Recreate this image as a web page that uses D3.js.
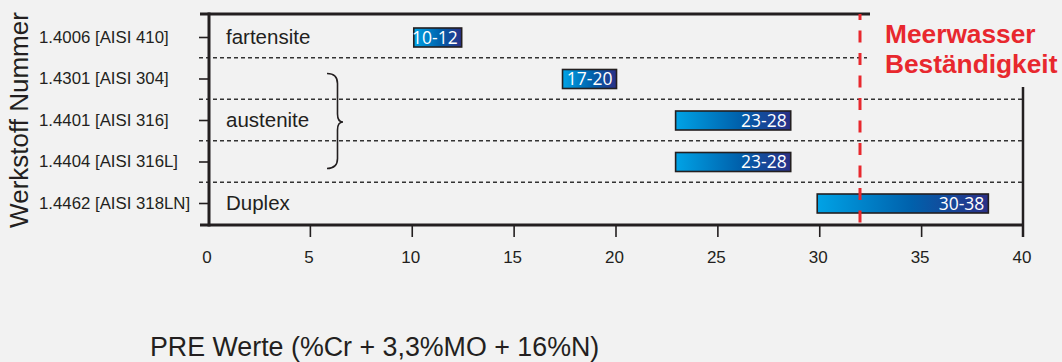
<!DOCTYPE html>
<html><head><meta charset="utf-8">
<script src="https://cdn.jsdelivr.net/npm/d3@7"></script>
<style>
html,body{margin:0;padding:0;background:#f2f2f2;}
svg{display:block;}
</style></head>
<body>
<svg id="chart" width="1062" height="362"></svg>
<script>
// ---- data ----
const materials = ["1.4006 [AISI 410]", "1.4301 [AISI 304]", "1.4401 [AISI 316]", "1.4404 [AISI 316L]", "1.4462 [AISI 318LN]"];
const barStart = [10.1, 17.4, 22.95, 22.95, 29.9];
const barEnd = [12.45, 20.05, 28.6, 28.6, 38.3];
const barLabels = ["10-12", "17-20", "23-28", "23-28", "30-38"];
const groups = ["fartensite", "austenite", "Duplex"];
const groupRow = [0, 2, 4];
const xTicks = [0, 5, 10, 15, 20, 25, 30, 35, 40];
const seawaterLimit = 32;
const seawaterText = ["Meerwasser", "Beständigkeit"];
const yTitle = "Werkstoff Nummer";
const xTitle = "PRE Werte (%Cr + 3,3%MO + 16%N)";

// ---- chart ----
const svg = d3.select("#chart");
const ink = "#231f20";
const sans = "'Liberation Sans', Arial, sans-serif";

const x = d3.scaleLinear().domain([0, 40]).range([208, 1023]);
const y = d3.scalePoint().domain(materials).range([37, 203]);
const plotTop = 14, plotBottom = 225;

const defs = svg.append("defs");
const grad = defs.append("linearGradient").attr("id", "barGrad").attr("x1", "0").attr("x2", "1").attr("y1", "0").attr("y2", "0");
grad.append("stop").attr("offset", "0%").attr("stop-color", "#00a3e6");
grad.append("stop").attr("offset", "55%").attr("stop-color", "#0061ac");
grad.append("stop").attr("offset", "100%").attr("stop-color", "#2b2f86");

// dotted separators
const seps = materials.slice(1).map((m, i) => ({ y: (y(materials[i]) + y(m)) / 2, first: i === 0 }));
svg.append("g").selectAll("line").data(seps).join("line")
  .attr("x1", 199).attr("x2", d => d.first ? 867 : x(40))
  .attr("y1", d => d.y).attr("y2", d => d.y)
  .attr("stroke", "#333").attr("stroke-width", 1.6).attr("stroke-dasharray", "4,3");

// frame
const frame = svg.append("g").attr("stroke", ink).attr("fill", "none");
frame.append("line").attr("x1", 200).attr("x2", 870).attr("y1", plotTop).attr("y2", plotTop).attr("stroke-width", 3);
frame.append("line").attr("x1", 200).attr("x2", x(40) + 1).attr("y1", plotBottom).attr("y2", plotBottom).attr("stroke-width", 3);
frame.append("line").attr("x1", x(0) + 1).attr("x2", x(0) + 1).attr("y1", plotTop - 1.5).attr("y2", plotBottom + 1.5).attr("stroke-width", 3);
frame.append("line").attr("x1", x(40)).attr("x2", x(40)).attr("y1", 87).attr("y2", 237).attr("stroke-width", 2.5);

// x axis ticks + labels
const xAxis = d3.axisBottom(x).tickValues(xTicks.filter(v => v > 0 && v < 40)).tickSize(11).tickSizeOuter(0).tickFormat("");
const gx = svg.append("g").attr("transform", `translate(0,${plotBottom + 1})`).call(xAxis);
gx.select(".domain").remove();
gx.selectAll("line").attr("stroke", ink).attr("stroke-width", 1.6);
svg.append("g").selectAll("text").data(xTicks).join("text")
  .attr("x", d => x(d) - 1).attr("y", 263)
  .attr("text-anchor", "middle").attr("font-family", sans).attr("font-size", 17).attr("fill", ink)
  .text(d => d);

// y axis ticks + labels
const yAxis = d3.axisLeft(y).tickSize(10).tickSizeOuter(0).tickFormat("");
const gy = svg.append("g").attr("transform", `translate(${x(0) + 1},0)`).call(yAxis);
gy.select(".domain").remove();
gy.selectAll("line").attr("stroke", ink).attr("stroke-width", 1.6);
svg.append("g").selectAll("text").data(materials).join("text")
  .attr("x", 39).attr("y", d => y(d)).attr("dy", "0.35em")
  .attr("font-family", sans).attr("font-size", 16.8).attr("fill", ink)
  .text(d => d);

// group labels
svg.append("g").selectAll("text").data(groups).join("text")
  .attr("x", 226).attr("y", (d, i) => y(materials[groupRow[i]])).attr("dy", "0.35em")
  .attr("font-family", sans).attr("font-size", 20.5).attr("fill", ink)
  .text(d => d);

// brace for austenite rows
const bTop = y(materials[1]) - 5, bBot = y(materials[3]) + 7, bMid = y(materials[2]) + 2;
const bx0 = 327, bx1 = 337.5, bxp = 343;
svg.append("path")
  .attr("d", `M${bx0},${bTop} Q${bx1},${bTop} ${bx1},${bTop + 10} L${bx1},${bMid - 8} Q${bx1},${bMid} ${bxp},${bMid} Q${bx1},${bMid} ${bx1},${bMid + 8} L${bx1},${bBot - 10} Q${bx1},${bBot} ${bx0},${bBot}`)
  .attr("fill", "none").attr("stroke", ink).attr("stroke-width", 1.6);

// bars
const barH = 19;
const bars = svg.append("g").selectAll("g").data(materials).join("g");
bars.append("rect")
  .attr("x", (d, i) => x(barStart[i])).attr("y", d => y(d) - barH / 2 + 0.5)
  .attr("width", (d, i) => x(barEnd[i]) - x(barStart[i])).attr("height", barH)
  .attr("fill", "url(#barGrad)").attr("stroke", ink).attr("stroke-width", 1.6);
bars.append("text")
  .attr("x", (d, i) => x(barEnd[i]) - 4).attr("y", d => y(d) + 0.5).attr("dy", "0.36em")
  .attr("text-anchor", "end").attr("font-family", "'Open Sans', sans-serif").attr("font-size", 17.5).attr("fill", "#fff")
  .text((d, i) => barLabels[i]);

// seawater limit line
svg.append("line")
  .attr("x1", x(seawaterLimit)).attr("x2", x(seawaterLimit)).attr("y1", plotTop).attr("y2", plotBottom)
  .attr("stroke", "#e8282e").attr("stroke-width", 3).attr("stroke-dasharray", "12,10.5").attr("stroke-dashoffset", 6);
svg.append("g").selectAll("text").data(seawaterText).join("text")
  .attr("x", 885).attr("y", (d, i) => 43 + i * 30)
  .attr("font-family", sans).attr("font-weight", "bold").attr("font-size", 26.3).attr("fill", "#e8282e")
  .text(d => d);

// titles
svg.append("text").attr("transform", "translate(28,120) rotate(-90)")
  .attr("text-anchor", "middle").attr("font-family", sans).attr("font-size", 26).attr("fill", ink)
  .text(yTitle);
svg.append("text").attr("x", 150).attr("y", 356)
  .attr("font-family", sans).attr("font-size", 26.8).attr("fill", ink)
  .text(xTitle);
</script>
</body></html>
